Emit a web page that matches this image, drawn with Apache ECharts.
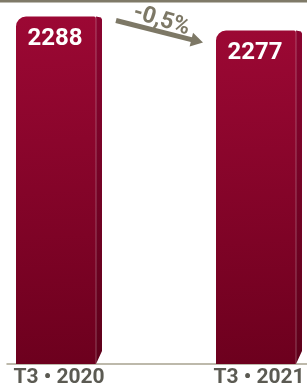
<!DOCTYPE html>
<html>
<head>
<meta charset="utf-8">
<script src="https://cdn.jsdelivr.net/npm/echarts@6/dist/echarts.min.js"></script>
<style>
  html, body { margin: 0; padding: 0; background: #fff; }
  #chart { width: 307px; height: 383px; }
</style>
</head>
<body>
<div id="chart"></div>
<script>
// données
const categories = ["T3 • 2020", "T3 • 2021"];
const values = [2288, 2277];
const changeLabel = "-0,5%";

const yMin = 2015;
const yMax = 2301;
const barW = 86;
const sideW = 6;

const chart = echarts.init(document.getElementById("chart"));

function renderBar(params, api) {
  const top = api.coord([api.value(0), api.value(1)]);
  const bottom = api.coord([api.value(0), yMin]);
  const x0 = top[0] - barW / 2;
  const x1 = top[0] + barW / 2;
  const h = bottom[1] - top[1];
  return {
    type: "group",
    children: [
      {
        type: "rect",
        shape: { x: x0, y: top[1], width: barW - sideW, height: h, r: [10, 2, 0, 0] },
        style: {
          fill: new echarts.graphic.LinearGradient(0, 0, 0.25, 1, [
            { offset: 0, color: "#9c0834" },
            { offset: 1, color: "#6d001e" },
          ]),
        },
      },
      {
        type: "polygon",
        shape: {
          points: [
            [x1 - sideW, top[1]],
            [x1 - 1, top[1] + 1],
            [x1, top[1] + 3],
            [x1, bottom[1] - 13],
            [x1 - sideW, bottom[1]],
          ],
        },
        style: {
          fill: new echarts.graphic.LinearGradient(0, 0, 0, 1, [
            { offset: 0, color: "#8a0430" },
            { offset: 1, color: "#5e001a" },
          ]),
        },
      },
      {
        type: "rect",
        shape: { x: x1 - sideW - 0.5, y: top[1] + 1, width: 1, height: h - 1 },
        style: { fill: "rgba(255,255,255,0.28)" },
      },
      {
        type: "text",
        style: {
          text: String(api.value(1)),
          x: top[0] - sideW / 2 - 1,
          y: top[1] + 22,
          align: "center",
          verticalAlign: "middle",
          fill: "#fff",
          font: "bold 24px Roboto",
        },
      },
    ],
  };
}

chart.setOption({
  animation: false,
  grid: { left: 7, right: 0, top: 0, bottom: 19, outerBoundsMode: "none", containLabel: false },
  xAxis: {
    type: "value",
    min: -0.26,
    max: 1.24,
    splitLine: { show: false },
    axisTick: { show: false },
    axisLine: { show: true, onZero: false, lineStyle: { color: "#a8a290", width: 1.5 } },
    axisLabel: {
      customValues: [0, 1],
      formatter: (v) => categories[Math.round(v)],
      color: "#5b5a52",
      fontFamily: "Roboto",
      fontWeight: "bold",
      fontSize: 21,
      margin: 3,
    },
  },
  yAxis: {
    type: "value",
    min: yMin,
    max: yMax,
    show: false,
  },
  series: [
    {
      type: "custom",
      renderItem: renderBar,
      encode: { x: 0, y: 1 },
      data: values.map((v, i) => [i, v]),
      clip: false,
    },
  ],
});

// flèche de variation
const p0 = chart.convertToPixel({ gridIndex: 0 }, [0, values[0]]);
const p1 = chart.convertToPixel({ gridIndex: 0 }, [1, values[1]]);
const start = [p0[0] + 57, p0[1] + 4];
const tip = [p1[0] - 56, p1[1] + 12];
const ang = Math.atan2(tip[1] - start[1], tip[0] - start[0]);
const head = 12;
const back = [tip[0] - head * Math.cos(ang), tip[1] - head * Math.sin(ang)];
const nx = -Math.sin(ang), ny = Math.cos(ang);
const arrowColor = "#7d7866";

chart.setOption({
  graphic: [
    {
      type: "rect",
      shape: { x: 0, y: 0, width: 307, height: 2.5 },
      style: { fill: "#7f7a68" },
    },
    {
      type: "line",
      shape: { x1: start[0], y1: start[1], x2: back[0] + Math.cos(ang), y2: back[1] + Math.sin(ang) },
      style: { stroke: arrowColor, lineWidth: 5 },
    },
    {
      type: "polygon",
      shape: {
        points: [
          tip,
          [back[0] + nx * 7, back[1] + ny * 7],
          [back[0] - nx * 7, back[1] - ny * 7],
        ],
      },
      style: { fill: arrowColor },
    },
    {
      type: "text",
      x: (start[0] + tip[0]) / 2 + 2,
      y: (start[1] + tip[1]) / 2 - 11,
      rotation: -0.3,
      style: {
        text: changeLabel,
        align: "center",
        verticalAlign: "middle",
        fill: arrowColor,
        font: "bold 23px Roboto",
      },
    },
  ],
});
</script>
</body>
</html>
